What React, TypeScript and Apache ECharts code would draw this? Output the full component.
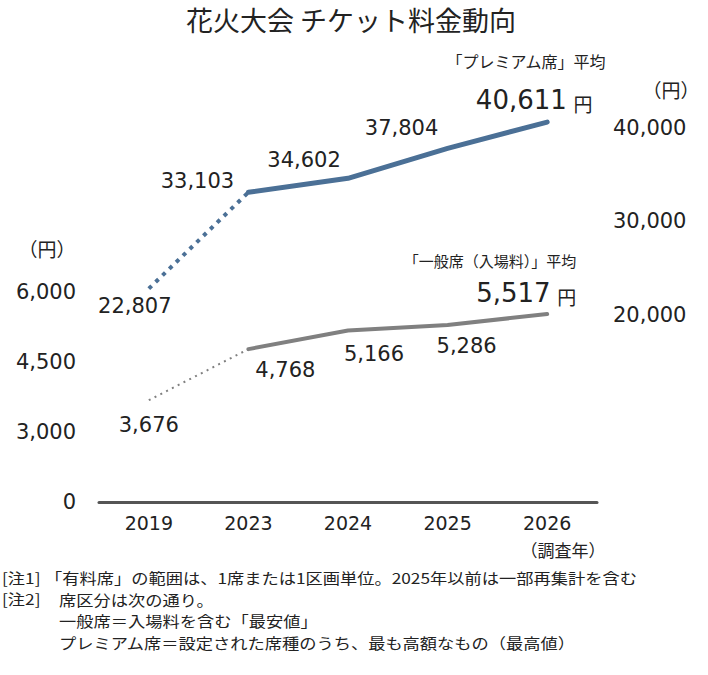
import React, { useEffect, useRef } from 'react';
import * as echarts from 'echarts';

// chart values
const years = ['2019', '2023', '2024', '2025', '2026'];
const premiumAvg = [22807, 33103, 34602, 37804, 40611];
const generalAvg = [3676, 4768, 5166, 5286, 5517];
const leftTickLabels = [3000, 4500, 6000];
const rightTickLabels = [20000, 30000, 40000];
// the left axis is broken: its "0" sits where 1,500 would be
const leftBreakValue = 1500;

const noteHeads = ['[注1]', '[注2]'];
const noteFirst = '「有料席」の範囲は、1席または1区画単位。2025年以前は一部再集計を含む';
const noteRest = [
    '席区分は次の通り。',
    '一般席＝入場料を含む「最安値」',
    'プレミアム席＝設定された席種のうち、最も高額なもの（最高値）',
];

// label offsets from each point (px)
const premiumLabelOffsets = [[-14, 17], [-51, -11], [-44, -18], [-46, -20], [-13, -22]];
const generalLabelOffsets = [[0, 25], [37, 21], [26, 23], [19, 21], [-21, -21]];

const NUM_FONT = "'DejaVu Sans', 'Noto Sans CJK JP', sans-serif";
const JP_FONT = "'Noto Sans CJK JP', sans-serif";
const TEXT = '#222';
const PREMIUM_COLOR = '#4b7096';
const GENERAL_COLOR = '#808080';
const NOTE_SIZE = 15;
const NOTE_LH = 22;
const NOTE_SCALE_X = 1.15;

const fmt = (v: number) => v.toLocaleString('en-US');

const makeLabel = (offset: number[], last: boolean) => ({
    show: true,
    position: 'inside',
    offset,
    color: TEXT,
    fontFamily: NUM_FONT,
    fontSize: 21,
    formatter: (p: any) => (last ? `{n|${fmt(p.value)}} {u|円}` : fmt(p.value)),
    rich: {
        n: { fontSize: 26, fontFamily: NUM_FONT, color: TEXT },
        u: { fontSize: 19, fontFamily: JP_FONT, color: TEXT, padding: [6, 0, 0, 0] },
    },
});

const buildSeries = (
    values: number[],
    offsets: number[][],
    yAxisIndex: number,
    color: string,
    solidWidth: number,
    dotWidth: number,
    dash: number[],
) => {
    const last = values.length - 1;
    const dotted = values.map((v, i) =>
        i === 0 ? { value: v, label: makeLabel(offsets[i], false) } : i === 1 ? { value: v, label: { show: false } } : '-',
    );
    const solid = values.map((v, i) =>
        i === 0 ? '-' : { value: v, label: makeLabel(offsets[i], i === last) },
    );
    const common = {
        type: 'line',
        yAxisIndex,
        symbol: 'circle',
        symbolSize: 1,
        itemStyle: { color: 'rgba(0,0,0,0)' },
        silent: true,
    };
    return [
        {
            ...common,
            data: dotted,
            lineStyle: { color, width: dotWidth, type: dash, cap: 'butt' },
            z: 2,
        },
        {
            ...common,
            data: solid,
            lineStyle: { color, width: solidWidth, type: 'solid', cap: 'round' },
            z: 3,
        },
    ];
};

const App: React.FC = () => {
    const chartRef = useRef<HTMLDivElement>(null);

    useEffect(() => {
        document.body.style.margin = '0';
        if (!chartRef.current) return;
        const chart = echarts.init(chartRef.current, undefined, { renderer: 'svg' });

        const noteStyle = { fontFamily: JP_FONT, fontSize: NOTE_SIZE, fill: TEXT, lineHeight: NOTE_LH, verticalAlign: 'top' };
        const firstNoteTop = 577 - NOTE_LH / 2;
        const noteLine = (x: number, y: number, text: string) => ({
            type: 'text',
            x,
            y,
            scaleX: NOTE_SCALE_X,
            style: { ...noteStyle, text },
        });

        const option: any = {
            animation: false,
            backgroundColor: '#fff',
            title: {
                text: '花火大会 チケット料金動向',
                left: 346,
                textAlign: 'center',
                top: 1,
                textStyle: { fontFamily: JP_FONT, fontSize: 27, fontWeight: 'normal', color: TEXT },
            },
            grid: { left: 99, right: 111, top: 81, bottom: 173 },
            xAxis: {
                type: 'category',
                data: years,
                boundaryGap: true,
                axisLine: { show: true, lineStyle: { color: '#555', width: 3 } },
                axisTick: { show: false },
                axisLabel: { margin: 11, fontFamily: NUM_FONT, fontSize: 19, color: TEXT },
            },
            yAxis: [
                {
                    type: 'value',
                    min: leftBreakValue,
                    max: 10500,
                    interval: 1500,
                    axisLine: { show: false },
                    axisTick: { show: false },
                    splitLine: { show: false },
                    axisLabel: {
                        margin: 23,
                        fontFamily: NUM_FONT,
                        fontSize: 21,
                        color: TEXT,
                        formatter: (v: number) =>
                            v === leftBreakValue ? '0' : leftTickLabels.includes(v) ? fmt(v) : '',
                    },
                },
                {
                    type: 'value',
                    min: 0,
                    max: 45000,
                    interval: 5000,
                    position: 'right',
                    axisLine: { show: false },
                    axisTick: { show: false },
                    splitLine: { show: false },
                    axisLabel: {
                        margin: 16,
                        fontFamily: NUM_FONT,
                        fontSize: 21,
                        color: TEXT,
                        formatter: (v: number) => (rightTickLabels.includes(v) ? fmt(v) : ''),
                    },
                },
            ],
            series: [
                ...buildSeries(premiumAvg, premiumLabelOffsets, 1, PREMIUM_COLOR, 5, 4, [4, 5.5]),
                ...buildSeries(generalAvg, generalLabelOffsets, 0, GENERAL_COLOR, 4, 2, [2, 4.5]),
            ],
            graphic: [
                {
                    type: 'text',
                    x: 526,
                    y: 61,
                    style: { text: '「プレミアム席」平均', fontFamily: JP_FONT, fontSize: 16, fill: TEXT, align: 'center', verticalAlign: 'middle' },
                },
                {
                    type: 'text',
                    x: 490,
                    y: 260,
                    style: { text: '「一般席（入場料）」平均', fontFamily: JP_FONT, fontSize: 15, fill: TEXT, align: 'center', verticalAlign: 'middle' },
                },
                {
                    type: 'text',
                    x: 671,
                    y: 89,
                    style: { text: '（円）', fontFamily: JP_FONT, fontSize: 19, fill: TEXT, align: 'center', verticalAlign: 'middle' },
                },
                {
                    type: 'text',
                    x: 47,
                    y: 248,
                    style: { text: '（円）', fontFamily: JP_FONT, fontSize: 19, fill: TEXT, align: 'center', verticalAlign: 'middle' },
                },
                {
                    type: 'text',
                    x: 563,
                    y: 549,
                    style: { text: '（調査年）', fontFamily: JP_FONT, fontSize: 17, fill: TEXT, align: 'center', verticalAlign: 'middle' },
                },
                noteLine(2, firstNoteTop, noteHeads.join('\n')),
                noteLine(45, firstNoteTop, noteFirst),
                noteLine(59, firstNoteTop + NOTE_LH, noteRest.join('\n')),
            ],
        };

        chart.setOption(option);
        return () => chart.dispose();
    }, []);

    return <div ref={chartRef} style={{ width: 708, height: 675 }} />;
};

export default App;
